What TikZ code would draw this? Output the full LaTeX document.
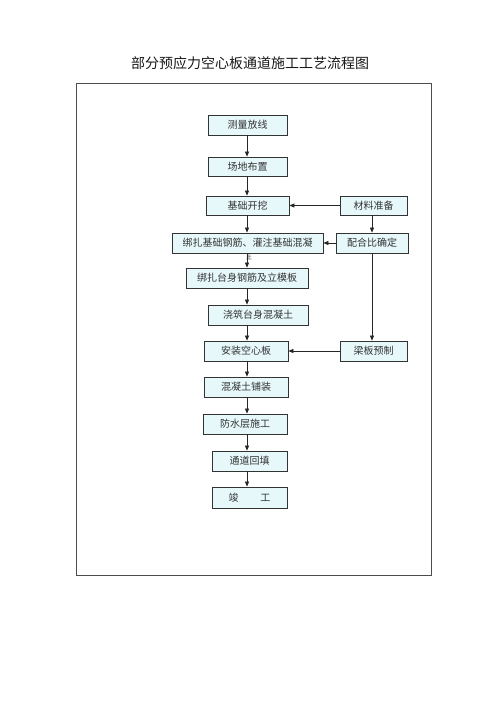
\documentclass[tikz,border=0pt]{standalone}
\usepackage{fontspec}
\newfontfamily\cjk{Noto Sans CJK SC}
\usetikzlibrary{arrows.meta}
\definecolor{boxfill}{HTML}{E6F8FA}
\definecolor{txt}{HTML}{333333}
\tikzset{
  flowbox/.style={draw=black!80, line width=0.8pt, fill=boxfill, inner sep=0pt,
    font=\cjk\fontsize{10}{10}\selectfont, text=txt, anchor=center},
  arr/.style={draw=black!85, line width=0.7pt, -{Triangle[length=5pt,width=4pt]}},
}
\begin{document}
\begin{tikzpicture}[x=1pt,y=-1pt]
\useasboundingbox (0,0) rectangle (500,707);
\fill[white] (0,0) rectangle (500,707);
\node[font=\cjk\fontsize{14}{14}\selectfont, text=black!90] (title) at (250,63) {部分预应力空心板通道施工工艺流程图};
\draw[black!70, line width=0.8pt] (76,83) rectangle (431,575);
\coordinate (ax) at (247,0);
\node[flowbox, minimum width=79pt, minimum height=20pt] (m1) at (247.5,125) {测量放线};
\node[flowbox, minimum width=79pt, minimum height=19pt] (m2) at (247.5,166.5) {场地布置};
\node[flowbox, minimum width=83pt, minimum height=19pt] (m3) at (247.5,205.5) {基础开挖};
\node[flowbox, minimum width=67pt, minimum height=19pt] (r1) at (373.5,205.5) {材料准备};
\node[flowbox, minimum width=151pt, minimum height=20pt] (m4) at (247.5,243) {绑扎基础钢筋、灌注基础混凝};
\node[font=\cjk\fontsize{6}{6}\selectfont, text=txt, inner sep=0pt] (m4b) at (249,257.5) {土};
\node[flowbox, minimum width=72pt, minimum height=20pt] (r2) at (372,243) {配合比确定};
\node[flowbox, minimum width=122pt, minimum height=20pt] (m5) at (247,278) {绑扎台身钢筋及立模板};
\node[flowbox, minimum width=100pt, minimum height=20pt] (m6) at (258,315) {浇筑台身混凝土};
\node[flowbox, minimum width=84pt, minimum height=20pt] (m7) at (246,351) {安装空心板};
\node[flowbox, minimum width=67pt, minimum height=20pt] (r3) at (373.5,351) {梁板预制};
\node[flowbox, minimum width=84pt, minimum height=20pt] (m8) at (246,387) {混凝土铺装};
\node[flowbox, minimum width=84pt, minimum height=20pt] (m9) at (245,424) {防水层施工};
\node[flowbox, minimum width=75pt, minimum height=20pt] (m10) at (249.5,461) {通道回填};
\node[flowbox, minimum width=75pt, minimum height=21pt] (m11) at (249.5,497.5) {竣\hspace{2.2em}工};
\foreach \a/\b in {m1/m2,m2/m3,m3/m4,m4/m5,m5/m6,m6/m7,m7/m8,m8/m9,m9/m10,m10/m11}
  \draw[arr] (\a.south -| ax) -- (\b.north -| ax);
\draw[arr] (r1.west) -- (m3.east);
\draw[arr] (r1.south -| r2.north) -- (r2.north);
\draw[arr] (r2.west) -- (m4.east);
\draw[arr] (r2.south) -- (r3.north -| r2.south);
\draw[arr] (r3.west) -- (m7.east);
\end{tikzpicture}
\end{document}
